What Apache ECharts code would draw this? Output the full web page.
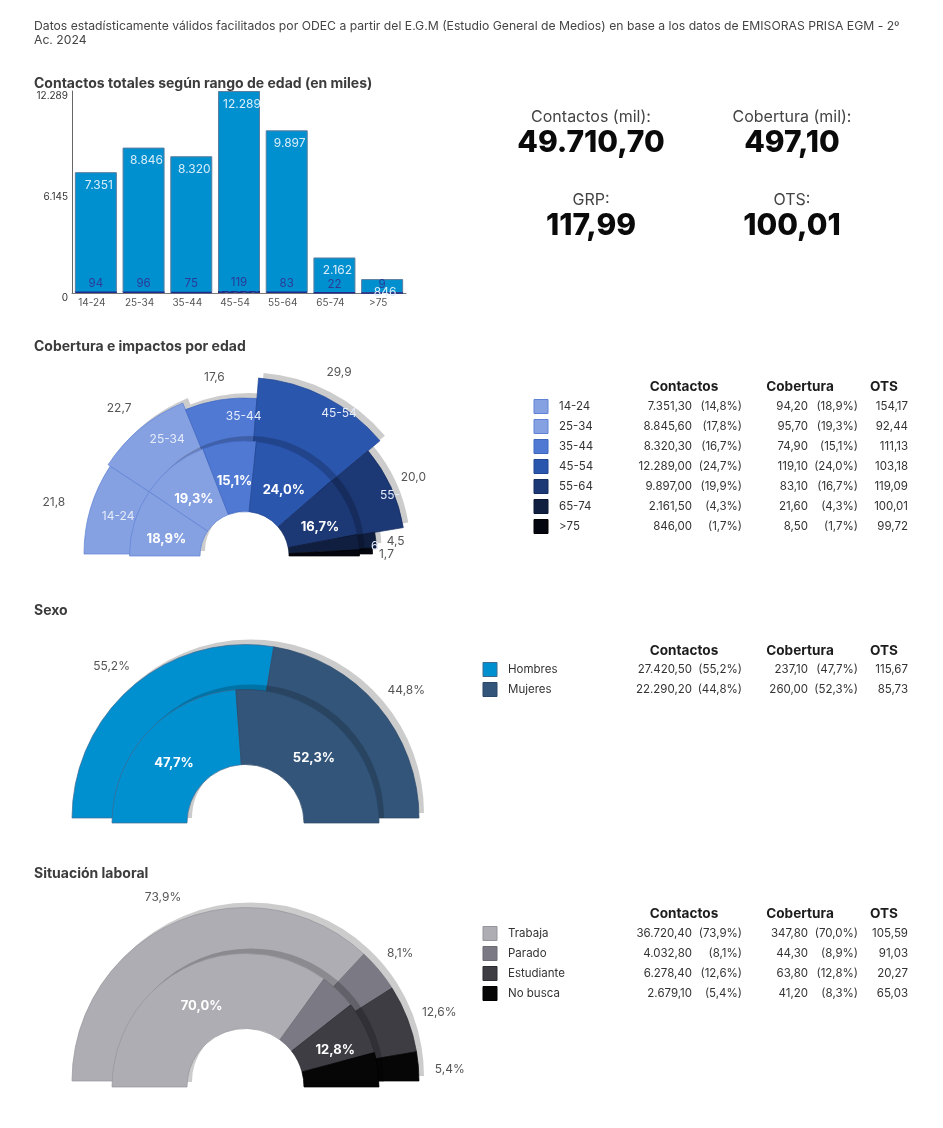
<!DOCTYPE html>
<html>
<head>
<meta charset="utf-8">
<title>Contactos y cobertura</title>
<script src="https://cdn.jsdelivr.net/npm/echarts@6/dist/echarts.min.js"></script>
<style>
html,body{margin:0;padding:0;background:#fff}
#main{width:943px;height:1128px}
</style>
</head>
<body>
<div id="main"></div>
<script>
// datos
var edades = ['14-24','25-34','35-44','45-54','55-64','65-74','>75'];
var edadContactos = [7351.30,8845.60,8320.30,12289.00,9897.00,2161.50,846.00];
var edadContactosPct = [14.8,17.8,16.7,24.7,19.9,4.3,1.7];
var edadCobertura = [94.20,95.70,74.90,119.10,83.10,21.60,8.50];
var edadCoberturaPct = [18.9,19.3,15.1,24.0,16.7,4.3,1.7];
var edadOts = [154.17,92.44,111.13,103.18,119.09,100.01,99.72];
var edadImpactos = [21.8,22.7,17.6,29.9,20.0,4.5,1.7];
var edadRotulos = ['14-24','25-34','35-44','45-54','55-','6',''];

var sexos = ['Hombres','Mujeres'];
var sexoContactos = [27420.50,22290.20];
var sexoContactosPct = [55.2,44.8];
var sexoCobertura = [237.10,260.00];
var sexoCoberturaPct = [47.7,52.3];
var sexoOts = [115.67,85.73];

var situaciones = ['Trabaja','Parado','Estudiante','No busca'];
var sitContactos = [36720.40,4032.80,6278.40,2679.10];
var sitContactosPct = [73.9,8.1,12.6,5.4];
var sitCobertura = [347.80,44.30,63.80,41.20];
var sitCoberturaPct = [70.0,8.9,12.8,8.3];
var sitOts = [105.59,91.03,20.27,65.03];

var ejeY = [0,12289];
var kpis = [['Contactos (mil):','49.710,70'],['Cobertura (mil):','497,10'],['GRP:','117,99'],['OTS:','100,01']];

var coloresEdad = ['#86a1e2','#86a1e2','#4f79d3','#2b56ad','#1c3875','#101e40','#03060f'];
var bordesEdad = ['#5f82d6','#5f82d6','#3f66bf','#1f4593','#142b5e','#0b1630','#000000'];
var coloresSexo = ['#0090d0','#33557a'];
var bordesSexo = ['#3f6a90','#2a4868'];
var coloresSit = ['#aeadb3','#7b7a84','#3e3d44','#060606'];
var bordesSit = ['#96959c','#6c6b75','#2c2b31','#000000'];

var FUENTE = 'Inter, "Noto Sans", sans-serif';

function miles(v, dec){
	var s = v.toFixed(dec).split('.');
	var e = s[0].replace(/\B(?=(\d{3})+$)/g,'.');
	return dec > 0 ? e + ',' + s[1] : e;
}
function coma(v){ return v.toFixed(1).replace('.',','); }

var series = [];
var graficos = [];

function texto(x, y, t, font, fill, align){
	graficos.push({type:'text', x:x, y:y+1, silent:true, style:{text:t, font:font, fill:fill, align:align || 'left', verticalAlign:'middle'}});
}

// un sector por serie, porque el radio exterior cambia en cada sector
function anillo(cfg){
	var suma = cfg.valores.reduce(function(a,b){return a+b;},0);
	var acum = 0;
	var sombra = [], sectores = [];
	cfg.valores.forEach(function(v,i){
		var ang = v / suma * 180;
		var ini = 180 - acum, fin = Math.max(180 - acum - ang, 0);
		acum += ang;
		var rad = [cfg.rIn, cfg.rOut(v,i)];
		var base = {type:'pie', silent:true, animation:false, startAngle:ini, endAngle:fin, clockwise:true, radius:rad, labelLine:{show:false}};
		sombra.push(Object.assign({}, base, {
			center:[cfg.cx+5, cfg.cy-5],
			label:{show:false},
			itemStyle:{color:'rgba(0,0,0,0.2)'},
			data:[{value:v, name:cfg.nombres[i]}]
		}));
		var lb = cfg.rotulo ? cfg.rotulo(v,i) : null;
		sectores.push(Object.assign({}, base, {
			center:[cfg.cx, cfg.cy],
			label: lb ? {show:true, position:'inside', formatter:lb, offset:[1,7.5], color:'#fff', fontFamily:FUENTE, fontSize:13, fontWeight:700} : {show:false},
			itemStyle:{color:cfg.colores[i], borderColor:cfg.bordes[i], borderWidth:0.7},
			data:[{value:v, name:cfg.nombres[i]}]
		}));
	});
	series = series.concat(sombra, sectores);
}

// texto suelto colocado sobre el angulo del sector
function rotulos(cfg){
	var suma = cfg.valores.reduce(function(a,b){return a+b;},0);
	var acum = 0;
	cfg.valores.forEach(function(v,i){
		var ang = v / suma * 180;
		var ini = 180 - acum, fin = Math.max(180 - acum - ang, 0);
		acum += ang;
		var r = cfg.radio(v,i);
		var t = cfg.texto(v,i);
		if(!t){ return; }
		// el pie no pinta la etiqueta en sectores tan estrechos
		if(ang < 3){
			var medio = (ini + fin) / 2 * Math.PI / 180;
			texto(cfg.cx + r*Math.cos(medio) + cfg.offset[i][0], cfg.cy - r*Math.sin(medio) + cfg.offset[i][1], t, '400 12px ' + FUENTE, cfg.color, 'center');
			return;
		}
		series.push({
			type:'pie', silent:true, animation:false, startAngle:ini, endAngle:fin, clockwise:true,
			center:[cfg.cx,cfg.cy], radius:[r-1,r+1], labelLine:{show:false},
			itemStyle:{color:'transparent'},
			label:{show:true, position:'inside', formatter:t, offset:cfg.offset[i], color:cfg.color, fontFamily:FUENTE, fontSize:12},
			data:[{value:v, name:cfg.nombres[i]}]
		});
	});
}

function tabla(yCab, dyFila, xCuadro, xNombre, nombres, colores, bordes, con, conPct, cob, cobPct, ots){
	var fCab = '700 13.6px ' + FUENTE, fFila = '400 11.5px ' + FUENTE;
	texto(684, yCab, 'Contactos', fCab, '#1c1c1c', 'center');
	texto(800, yCab, 'Cobertura', fCab, '#1c1c1c', 'center');
	texto(884, yCab, 'OTS', fCab, '#1c1c1c', 'center');
	nombres.forEach(function(n,i){
		var y = yCab + dyFila + i*20;
		graficos.push({type:'rect', silent:true, shape:{x:xCuadro, y:y-6.5, width:14, height:14}, style:{fill:colores[i], stroke:bordes[i], lineWidth:1}});
		texto(xNombre, y, n, fFila, '#333');
		texto(692, y, miles(con[i],2), fFila, '#333', 'right');
		texto(742, y, '(' + coma(conPct[i]) + '%)', fFila, '#333', 'right');
		texto(808, y, miles(cob[i],2), fFila, '#333', 'right');
		texto(858, y, '(' + coma(cobPct[i]) + '%)', fFila, '#333', 'right');
		texto(908, y, miles(ots[i],2), fFila, '#333', 'right');
	});
}

// cabecera y titulos
var fNota = '400 12.2px ' + FUENTE, fTit = '700 14px ' + FUENTE;
texto(34, 25, 'Datos estadísticamente válidos facilitados por ODEC a partir del E.G.M (Estudio General de Medios) en base a los datos de EMISORAS PRISA EGM - 2º', fNota, '#444');
texto(34, 39, 'Ac. 2024', fNota, '#444');
texto(34, 83, 'Contactos totales según rango de edad (en miles)', fTit, '#3c3c3c');
texto(34, 346, 'Cobertura e impactos por edad', fTit, '#3c3c3c');
texto(34, 610, 'Sexo', fTit, '#3c3c3c');
texto(34, 873, 'Situación laboral', fTit, '#3c3c3c');

// indicadores
kpis.forEach(function(k,i){
	var x = i % 2 ? 792 : 591, y = i < 2 ? 116 : 199;
	texto(x, y, k[0], '400 16px ' + FUENTE, '#444', 'center');
	texto(x, y+26, k[1], '800 30px ' + FUENTE, '#0a0a0a', 'center');
});

// barras
series.push({
	type:'bar', data:edadContactos, barWidth:42, barGap:'-100%', animation:false, silent:true,
	itemStyle:{color:'#0090d0', borderColor:'#5b7d9e', borderWidth:1},
	label:{show:true, position:'insideTop', distance:7, offset:[3,0], color:'#d9edf8', fontFamily:FUENTE, fontSize:12, formatter:function(p){return miles(p.value,0);}}
});
series.push({
	type:'bar', data:edadCobertura, barWidth:42, barGap:'-100%', animation:false, silent:true,
	itemStyle:{color:'transparent', borderColor:'#1f2a8a', borderWidth:1.5, borderType:'dashed'},
	label:{show:true, position:'top', distance:2, color:'#2b3a97', fontFamily:FUENTE, fontSize:11.5, formatter:function(p){return miles(p.value,0);}}
});

// edad
var EDAD = {cx:244.5, cy:555, nombres:edades};
var edadRadioExt = [160.5,163,156,176.5,161,132,128];
anillo(Object.assign({}, EDAD, {cy:554, valores:edadImpactos, rIn:95, colores:coloresEdad, bordes:bordesEdad,
	rOut:function(v,i){ return edadRadioExt[i]; }}));
anillo(Object.assign({}, EDAD, {cy:556, valores:edadCoberturaPct, rIn:44.5, colores:coloresEdad, bordes:bordesEdad,
	rOut:function(){ return 115; },
	rotulo:function(v){ return v >= 10 ? coma(v) + '%' : null; }}));
var edadRadioValor = [197,194,180,205,185,151,142];
var edadDesvioValor = [[1,5],[0,5],[-2,3],[-1,2],[-2,1],[-2,3],[0,2]];
rotulos(Object.assign({}, EDAD, {valores:edadImpactos, color:'#555', radio:function(v,i){return edadRadioValor[i];},
	offset:edadDesvioValor, texto:function(v){return coma(v);}}));
var edadRadioRotulo = [133,139,139,170,155,128,120];
var edadDesvio = [[4,0],[13,-6],[21,2],[15,12],[2,6],[0,5],[0,0]];
rotulos(Object.assign({}, EDAD, {valores:edadImpactos, color:'#e4ebfa', radio:function(v,i){return edadRadioRotulo[i];},
	offset:edadDesvio, texto:function(v,i){return edadRotulos[i];}}));
tabla(386, 20, 534, 559, edades, coloresEdad, bordesEdad, edadContactos, edadContactosPct, edadCobertura, edadCoberturaPct, edadOts);

// sexo
var SEXO = {cx:245.5, nombres:sexos, colores:coloresSexo, bordes:bordesSexo};
anillo(Object.assign({}, SEXO, {cy:818, valores:sexoContactosPct, rIn:100, rOut:function(){return 173.5;}}));
anillo(Object.assign({}, SEXO, {cy:823, valores:sexoCoberturaPct, rIn:58.5, rOut:function(){return 133.5;},
	rotulo:function(v){ return coma(v) + '%'; }}));
rotulos(Object.assign({}, SEXO, {cy:818, valores:sexoContactosPct, color:'#555', radio:function(){return 204;},
	offset:[[0,6],[3,6]], texto:function(v){return coma(v) + '%';}}));
tabla(650, 19, 483, 508, sexos, coloresSexo, bordesSexo, sexoContactos, sexoContactosPct, sexoCobertura, sexoCoberturaPct, sexoOts);

// situacion laboral
var SIT = {cx:245.5, nombres:situaciones, colores:coloresSit, bordes:bordesSit};
anillo(Object.assign({}, SIT, {cy:1081, valores:sitContactosPct, rIn:100, rOut:function(){return 173.5;}}));
anillo(Object.assign({}, SIT, {cy:1087, valores:sitCoberturaPct, rIn:58.5, rOut:function(){return 133.5;},
	rotulo:function(v){ return v >= 10 ? coma(v) + '%' : null; }}));
var sitRadioValor = [204,198,196,191];
rotulos(Object.assign({}, SIT, {cy:1081, valores:sitContactosPct, color:'#555', radio:function(v,i){return sitRadioValor[i];},
	offset:[[0,6],[0,1],[8,3],[11,5]], texto:function(v){return coma(v) + '%';}}));
tabla(913, 20, 483, 508, situaciones, coloresSit, bordesSit, sitContactos, sitContactosPct, sitCobertura, sitCoberturaPct, sitOts);

var grafico = echarts.init(document.getElementById('main'), null, {renderer:'canvas'});
grafico.setOption({
	backgroundColor:'#fff',
	animation:false,
	grid:{left:72, top:91, width:334, height:202},
	xAxis:{type:'category', data:edades,
		axisLine:{lineStyle:{color:'#777', width:1}}, axisTick:{show:false},
		axisLabel:{color:'#555', fontFamily:FUENTE, fontSize:10, margin:5, padding:[0,8,0,0]}},
	yAxis:{type:'value', min:ejeY[0], max:ejeY[1], interval:ejeY[1]/2,
		axisLine:{show:true, lineStyle:{color:'#666', width:1}}, axisTick:{show:false}, splitLine:{show:false},
		axisLabel:{color:'#333', fontFamily:FUENTE, fontSize:10, margin:4, verticalAlign:'top', formatter:function(v){return miles(v,0);}}},
	graphic:{elements:graficos},
	series:series
});
</script>
</body>
</html>
